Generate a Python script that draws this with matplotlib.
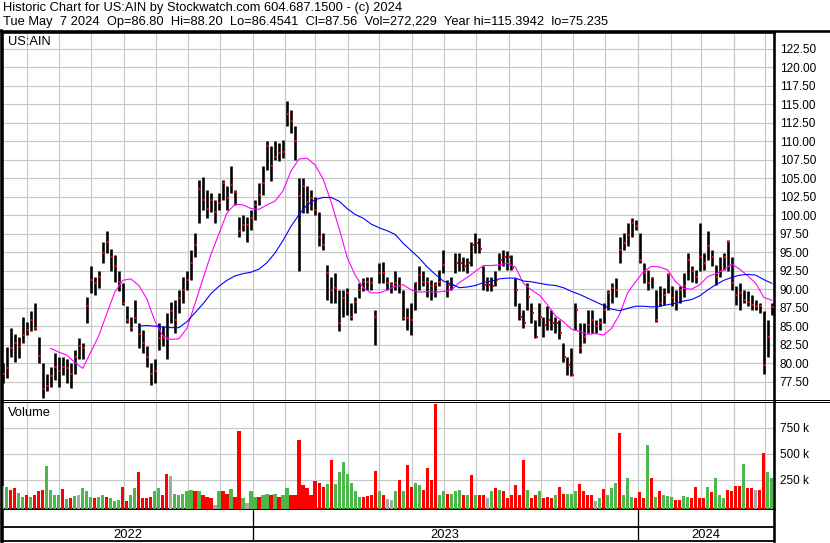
import numpy as np
import pandas as pd
import matplotlib
matplotlib.use('Agg')
import matplotlib.pyplot as plt
import matplotlib.dates as mdates
import matplotlib.transforms as mtransforms
from matplotlib.lines import Line2D

plt.rcParams['font.family'] = ['Liberation Sans', 'DejaVu Sans']

# ---------------- data ----------------
symbol = "US:AIN"
title1 = "Historic Chart for US:AIN by Stockwatch.com 604.687.1500 - (c) 2024"
title2 = ("Tue May  7 2024  Op=86.80  Hi=88.20  Lo=86.4541  Cl=87.56  "
          "Vol=272,229  Year hi=115.3942  lo=75.235")
first_date = "2022-05-09"
last_date = "2024-05-07"

high = [80.0, 82.2, 84.7, 84.0, 83.6, 86.3, 85.6, 87.0, 88.1, 83.5,
        80.0, 78.6, 79.5, 81.4, 80.9, 80.9, 80.5, 80.0, 81.8, 83.4,
        82.7, 89.0, 93.1, 91.7, 92.4, 96.4, 97.8, 95.5, 94.6, 92.4,
        90.8, 87.7, 86.3, 88.6, 85.4, 84.5, 82.3, 80.0, 80.5, 85.4,
        85.0, 86.8, 88.3, 88.6, 89.9, 91.7, 92.4, 95.3, 97.6, 104.8,
        105.2, 103.4, 103.0, 102.1, 103.0, 104.8, 103.9, 106.6, 103.4, 99.8,
        100.0, 99.8, 100.7, 102.1, 104.3, 106.6, 110.0, 109.3, 110.0, 109.7,
        110.2, 115.4, 114.2, 112.0, 105.0, 105.0, 103.9, 103.4, 102.5, 100.5,
        97.6, 93.3, 91.7, 92.2, 89.9, 89.9, 90.1, 88.1, 89.0, 90.8,
        91.5, 91.7, 91.7, 87.2, 93.5, 93.7, 91.7, 91.0, 92.4, 91.7,
        89.9, 87.4, 88.1, 91.0, 93.1, 92.4, 91.7, 91.3, 91.0, 92.6,
        95.3, 91.3, 91.7, 94.9, 94.9, 94.4, 94.2, 96.4, 97.6, 96.9,
        93.1, 91.7, 91.7, 92.4, 94.9, 95.3, 95.1, 94.6, 91.5, 88.1,
        87.2, 90.8, 88.1, 85.9, 88.1, 86.3, 87.7, 87.2, 86.3, 85.9,
        82.7, 80.9, 82.0, 88.1, 85.4, 85.4, 87.2, 87.2, 85.9, 86.1,
        88.1, 89.9, 90.8, 91.5, 97.1, 97.6, 98.9, 99.6, 99.4, 97.6,
        93.5, 92.6, 91.7, 89.9, 90.4, 90.1, 92.2, 90.4, 89.9, 90.4,
        92.2, 94.9, 93.1, 92.6, 98.9, 94.9, 97.8, 95.3, 93.3, 94.4,
        94.9, 96.7, 94.4, 90.4, 90.8, 89.9, 89.7, 89.2, 88.6, 88.1,
        87.0, 85.9, 88.2]

low = [77.3, 78.0, 80.9, 80.2, 80.7, 82.7, 83.8, 84.3, 84.5, 80.0,
       75.3, 76.2, 76.8, 77.7, 76.8, 78.4, 77.3, 76.6, 78.6, 80.5,
       80.5, 85.4, 89.5, 89.2, 90.1, 93.5, 94.9, 92.4, 91.0, 89.7,
       87.9, 85.4, 84.3, 85.4, 82.0, 81.4, 79.5, 77.1, 77.3, 81.8,
       82.3, 80.5, 85.4, 84.1, 86.8, 88.1, 89.9, 91.3, 94.4, 98.9,
       100.7, 99.6, 100.5, 98.9, 100.7, 102.1, 100.7, 103.0, 101.4, 97.1,
       97.8, 96.4, 98.0, 99.4, 101.4, 102.7, 106.1, 104.6, 107.5, 107.3,
       107.7, 112.0, 111.1, 107.5, 92.4, 100.3, 100.3, 100.7, 100.0, 95.8,
       95.3, 88.6, 88.1, 88.1, 84.3, 86.3, 86.5, 85.9, 86.8, 88.8,
       89.7, 89.9, 89.9, 82.5, 90.8, 90.8, 89.9, 89.5, 89.9, 89.5,
       85.9, 84.5, 83.8, 87.2, 89.9, 90.4, 89.0, 88.6, 89.0, 90.4,
       92.2, 89.0, 89.9, 92.2, 92.4, 92.4, 92.2, 93.1, 94.9, 94.9,
       89.9, 89.7, 89.7, 90.4, 92.6, 93.1, 92.6, 92.6, 87.7, 85.9,
       84.7, 87.2, 85.4, 83.4, 85.0, 83.6, 84.5, 84.5, 84.1, 83.2,
       80.2, 78.4, 78.2, 84.5, 81.4, 82.7, 84.1, 84.1, 84.1, 84.5,
       85.4, 87.2, 88.1, 89.0, 93.5, 95.3, 95.8, 97.1, 98.0, 93.5,
       90.8, 89.9, 90.1, 85.6, 87.7, 87.9, 89.5, 87.7, 87.2, 88.1,
       89.0, 91.3, 91.0, 90.8, 92.4, 92.6, 94.0, 93.1, 90.6, 91.7,
       92.6, 92.4, 89.9, 87.9, 87.2, 88.1, 87.7, 87.2, 87.2, 86.8,
       78.6, 80.9, 86.45]

close = [78.6, 79.4, 82.0, 82.7, 82.2, 83.8, 84.5, 85.9, 84.7, 81.0,
         76.5, 76.9, 78.2, 79.5, 78.9, 79.5, 79.3, 78.6, 80.9, 82.3,
         82.0, 87.7, 91.3, 90.8, 91.6, 94.9, 96.4, 94.4, 93.1, 91.0,
         88.1, 85.9, 84.7, 86.1, 84.0, 82.7, 80.9, 78.6, 78.9, 83.4,
         83.4, 83.2, 87.0, 85.9, 88.8, 89.9, 91.3, 93.5, 96.0, 103.6,
         102.1, 100.9, 102.1, 100.5, 101.6, 104.3, 102.3, 104.1, 103.1, 97.8,
         98.7, 98.7, 99.6, 101.4, 102.7, 104.3, 109.3, 106.6, 107.9, 108.4,
         108.6, 113.7, 112.7, 110.0, 102.6, 104.0, 101.8, 102.3, 100.7, 97.1,
         96.0, 92.2, 89.9, 90.1, 85.4, 88.8, 89.5, 86.3, 88.3, 89.9,
         91.0, 91.0, 90.8, 86.3, 92.2, 92.2, 90.8, 90.6, 90.8, 90.4,
         86.1, 86.1, 85.9, 90.8, 91.9, 91.0, 91.0, 90.4, 90.6, 91.0,
         93.3, 90.6, 90.6, 93.5, 93.5, 93.1, 93.5, 96.0, 96.2, 95.5,
         90.6, 90.6, 90.4, 91.3, 94.0, 94.4, 94.4, 92.8, 89.9, 86.3,
         85.4, 89.0, 86.8, 83.6, 86.3, 85.2, 85.9, 85.4, 85.4, 84.1,
         80.9, 79.8, 78.4, 87.2, 82.0, 83.6, 85.2, 85.9, 85.0, 85.4,
         87.2, 89.5, 90.1, 89.9, 95.3, 96.2, 97.3, 98.9, 98.5, 94.0,
         92.2, 90.8, 91.5, 85.9, 88.1, 89.2, 91.9, 88.8, 88.1, 89.9,
         90.4, 94.0, 92.4, 91.7, 94.4, 93.5, 95.8, 94.4, 91.7, 92.4,
         94.4, 96.4, 90.8, 89.2, 89.5, 88.6, 88.3, 87.9, 87.7, 87.7,
         79.8, 83.6, 87.56]

# volume in thousands of shares
volume_k = [190, 180, 150, 170, 125, 90, 105, 90, 105, 140,
            150, 385, 150, 110, 105, 160, 70, 80, 100, 110,
            170, 140, 90, 75, 90, 105, 90, 75, 45, 55,
            180, 45, 105, 170, 330, 75, 75, 90, 140, 170,
            105, 310, 285, 120, 105, 120, 140, 155, 140, 140,
            105, 90, 75, 10, 140, 140, 120, 165, 90, 720,
            80, 25, 140, 90, 90, 105, 120, 105, 120, 90,
            105, 170, 105, 105, 635, 200, 170, 105, 240, 220,
            185, 215, 440, 215, 330, 420, 310, 220, 140, 90,
            90, 100, 105, 340, 140, 105, 65, 60, 140, 250,
            140, 390, 185, 225, 200, 155, 370, 250, 980, 110,
            140, 120, 120, 140, 155, 105, 105, 300, 105, 105,
            105, 75, 140, 175, 155, 140, 75, 105, 200, 105,
            440, 155, 75, 105, 140, 75, 90, 75, 105, 180,
            120, 120, 120, 140, 210, 140, 105, 105, 45, 75,
            160, 105, 175, 225, 705, 105, 270, 90, 75, 130,
            75, 590, 270, 90, 140, 105, 100, 90, 60, 60,
            100, 90, 75, 180, 75, 75, 180, 130, 270, 105,
            75, 155, 140, 190, 190, 400, 170, 170, 155, 155,
            510, 330, 272.229]

# session direction of each bar: U = up, D = down, F = flat
session = ("FUDDUUDUDD" "DUUUUDUDUF" "UUUDUUDUUU" "DDUUDDDDUU" "DDFUUUUUDU"
           "DDDFUDDUDD" "UFUUDUUDUD" "UUDDDDDDDD" "DUDUUUUUUU" "DDDDUDFFUD"
           "UDDUUDDDDU" "UDUUUDUDUD" "DFUDUDDDDD" "DUDDUDDDUD" "DUUUDDDDFU"
           "DUUUDUUUDD" "DUDUDUUUDD" "UUDDDDUDUU" "UDDDDUDDFD" "DUU")

# moving averages, read at every second bar (None = not yet drawn)
ma_fast = [None, None, None, None, None, None, 82.0, 81.5, 81.1, 80.1,
           79.3, 81.5, 83.7, 86.7, 89.6, 91.2, 91.4, 90.5, 88.7, 85.7,
           83.7, 83.2, 83.3, 84.7, 88.0, 91.4, 94.7, 97.5, 100.3, 101.5,
           101.4, 100.9, 100.8, 101.4, 101.9, 103.3, 106.0, 107.6, 107.7, 106.8,
           104.9, 101.8, 98.2, 94.3, 91.9, 90.2, 89.5, 89.5, 89.9, 90.4,
           90.6, 89.9, 89.6, 89.7, 89.6, 89.7, 89.9, 90.9, 91.6, 92.4,
           93.2, 93.2, 93.3, 93.5, 93.0, 90.8, 89.9, 89.2, 87.9, 86.4,
           85.6, 84.6, 84.3, 83.9, 84.0, 83.8, 84.7, 86.6, 89.5, 91.0,
           92.4, 93.1, 93.0, 92.6, 91.0, 90.1, 90.0, 90.6, 91.7, 92.1,
           92.6, 93.4, 92.7, 91.8, 90.8, 88.9, 88.5]

ma_slow = [None, None, None, None, None, None, None, None, None, None,
           None, None, None, None, None, None, None, 85.0, 85.1, 85.0,
           84.9, 84.8, 84.8, 85.6, 86.8, 88.0, 89.4, 90.4, 91.2, 91.8,
           92.1, 92.3, 92.7, 93.6, 94.9, 96.6, 98.5, 100.1, 101.4, 102.1,
           102.4, 102.4, 101.9, 100.9, 100.1, 99.6, 98.8, 98.3, 97.9, 97.4,
           96.2, 95.2, 94.2, 93.0, 92.0, 91.1, 90.7, 90.2, 90.3, 90.5,
           90.9, 91.1, 91.4, 91.5, 91.5, 91.1, 91.0, 90.8, 90.6, 90.5,
           90.2, 89.7, 89.3, 88.8, 88.3, 87.8, 87.3, 87.1, 87.4, 87.7,
           87.7, 87.6, 87.7, 87.9, 88.1, 88.4, 88.6, 89.1, 89.9, 90.6,
           91.2, 91.6, 91.9, 92.0, 91.9, 91.3, 90.8]

price_ticks = [77.5, 80.0, 82.5, 85.0, 87.5, 90.0, 92.5, 95.0, 97.5, 100.0,
               102.5, 105.0, 107.5, 110.0, 112.5, 115.0, 117.5, 120.0, 122.5]
volume_ticks_k = [250, 500, 750]
years = ["2022", "2023", "2024"]

# ---------------- layout helpers ----------------
W, H = 830, 543
def fx(px):
    return px / W
def fy(py):
    return 1 - py / H
def px2pt(p):
    return p * 72.0 / 100.0

GRID = '#c8c8c8'
GREEN = '#4cb84c'
RED = '#ff0000'
GRAY = '#a8a8a8'
FS = 9.3

fig = plt.figure(figsize=(W / 100, H / 100), dpi=100, facecolor='white')

N = len(close)
dates = pd.date_range(first_date, last_date, periods=N)
xd = mdates.date2num(dates.to_pydatetime())
step = xd[1] - xd[0]
xlim = (mdates.date2num(pd.Timestamp('2022-05-08 10:00').to_pydatetime()),
        mdates.date2num(pd.Timestamp('2024-05-09 02:00').to_pydatetime()))

L, R = 2, 774

# ---------------- price panel ----------------
ax = fig.add_axes([fx(L), fy(400), fx(R) - fx(L), fy(32) - fy(400)])
ax.set_xlim(*xlim)
ax.set_ylim(75.02, 124.77)
ax.xaxis.set_major_locator(mdates.MonthLocator())
ax.tick_params(axis='x', length=0, labelbottom=False)
ax.yaxis.tick_right()
ax.set_yticks(price_ticks)
ax.set_yticklabels([f"{t:.2f}" for t in price_ticks])
ax.tick_params(axis='y', length=0, pad=4, labelsize=8.5, labelcolor='black')
ax.grid(True, color=GRID, lw=px2pt(1.2))
ax.set_axisbelow(True)
for s in ['left', 'right', 'top']:
    ax.spines[s].set_linewidth(px2pt(2.6))
ax.spines['bottom'].set_linewidth(px2pt(1.0))

ax.vlines(xd, low, high, colors='black', lw=px2pt(2.6), zorder=3)
off = mtransforms.offset_copy(ax.transData, fig=fig, x=1.2, y=0, units='dots')
ax.plot(xd, close, ls='none', marker='s', ms=px2pt(2.6), mfc=RED, mec=RED,
        mew=0, transform=off, zorder=4)

xm = xd[::2]
ax.plot(xm, np.array(ma_fast, dtype=float), color='#ff00ff', lw=px2pt(1.1), zorder=5)
ax.plot(xm, np.array(ma_slow, dtype=float), color='#0000ff', lw=px2pt(1.1), zorder=5)

fig.text(fx(8), fy(42), symbol, fontsize=FS, va='center', ha='left')

# ---------------- volume panel ----------------
av = fig.add_axes([fx(L), fy(509), fx(R) - fx(L), fy(402) - fy(509)])
av.set_xlim(*xlim)
vmin, vmax = -29, 1000
av.set_ylim(vmin, vmax)
av.xaxis.set_major_locator(mdates.MonthLocator())
av.tick_params(axis='x', length=0, labelbottom=False)
av.yaxis.tick_right()
av.set_yticks(volume_ticks_k)
av.set_yticklabels([f"{t} k" for t in volume_ticks_k])
av.tick_params(axis='y', length=0, pad=4, labelsize=8.5, labelcolor='black')
av.grid(True, color=GRID, lw=px2pt(1.2))
av.set_axisbelow(True)
for s in ['left', 'right']:
    av.spines[s].set_linewidth(px2pt(2.6))
av.spines['top'].set_linewidth(px2pt(1.0))
av.spines['bottom'].set_linewidth(px2pt(2.2))
cmap = {'U': GREEN, 'D': RED, 'F': GRAY}
vcol = [cmap[c] for c in session]
vol = np.array(volume_k, dtype=float)
av.bar(xd, vol - vmin, bottom=vmin, width=step * 0.8, color=vcol, lw=0, zorder=3)
fig.text(fx(8), fy(413), "Volume", fontsize=FS, va='center', ha='left')

# ---------------- year band ----------------
ay = fig.add_axes([fx(L), fy(541), fx(R) - fx(L), fy(510) - fy(541)])
ay.set_xlim(*xlim)
ay.set_ylim(0, 31)
ay.set_xticks([])
ay.set_yticks([])
for s in ['left', 'right']:
    ay.spines[s].set_linewidth(px2pt(2.6))
ay.spines['top'].set_visible(False)
ay.spines['bottom'].set_linewidth(px2pt(1.8))
ay.axhline(14, color='black', lw=px2pt(1.8))
bounds = [xlim[0]] + [mdates.date2num(pd.Timestamp(f"{y}-01-01").to_pydatetime())
                      for y in years[1:]] + [xlim[1]]
for b in bounds[1:-1]:
    ay.axvline(b, color='black', lw=px2pt(1.3))
for i, y in enumerate(years):
    ay.text((bounds[i] + bounds[i + 1]) / 2, 6.5, y, ha='center', va='center', fontsize=FS)

# ---------------- header and frame lines ----------------
fig.text(fx(3), fy(8), title1, fontsize=FS, va='center', ha='left')
fig.text(fx(3), fy(21.5), title2, fontsize=FS, va='center', ha='left')
fig.add_artist(Line2D([0, 1], [fy(30.5), fy(30.5)], transform=fig.transFigure,
                      color='black', lw=px2pt(2.6)))
for yy in (400, 402):
    fig.add_artist(Line2D([fx(R), 1], [fy(yy), fy(yy)], transform=fig.transFigure,
                          color='black', lw=px2pt(1.0)))
fig.add_artist(Line2D([fx(1), fx(1)], [fy(30), fy(541)], transform=fig.transFigure,
                      color='black', lw=px2pt(2.6)))

fig.savefig('out.png', dpi=100, facecolor='white')
